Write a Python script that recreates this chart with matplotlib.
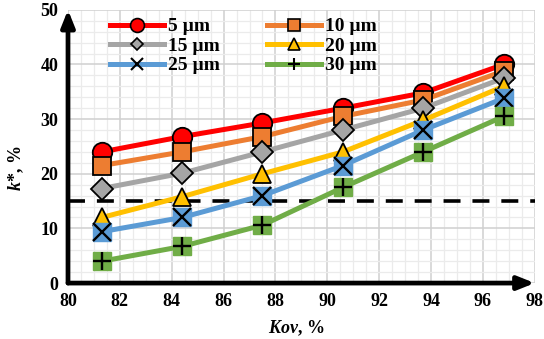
import numpy as np
import matplotlib
matplotlib.use('Agg')
import matplotlib.pyplot as plt
from matplotlib.lines import Line2D
from matplotlib.ticker import MultipleLocator

# data
kov = [81.3, 84.4, 87.5, 90.6, 93.7, 96.8]
k_5 = [24.0, 26.8, 29.3, 32.0, 34.8, 40.0]
k_10 = [21.5, 24.0, 26.8, 30.5, 33.5, 38.8]
k_15 = [17.3, 20.1, 24.0, 28.0, 32.0, 37.5]
k_20 = [12.0, 15.8, 20.0, 24.0, 29.8, 36.0]
k_25 = [9.4, 12.0, 16.0, 21.5, 28.0, 33.8]
k_30 = [4.0, 6.7, 10.6, 17.5, 24.0, 30.5]
labels = ['5 µm', '10 µm', '15 µm', '20 µm', '25 µm', '30 µm']
threshold = 15

plt.rcParams['font.family'] = ['Liberation Serif', 'DejaVu Serif']
plt.rcParams['font.weight'] = 'bold'
plt.rcParams['mathtext.fontset'] = 'custom'
plt.rcParams['mathtext.bfit'] = 'Liberation Serif:italic:bold'
plt.rcParams['mathtext.rm'] = 'Liberation Serif:bold'

fig = plt.figure(figsize=(5.44, 3.39), dpi=100)
ax = fig.add_axes([0.125, 0.165, 0.858, 0.806])

colors = ['#FF0000', '#ED7D31', '#A5A5A5', '#FFC000', '#5B9BD5', '#70AD47']
lw = 3.6

# series with their Excel-like markers
ax.plot(kov, k_5, color=colors[0], lw=lw, marker='o', ms=14, mfc=colors[0], mec='black', mew=1.3, zorder=3)
ax.plot(kov, k_10, color=colors[1], lw=lw, marker='s', ms=13, mfc=colors[1], mec='black', mew=1.3, zorder=4)
ax.plot(kov, k_15, color=colors[2], lw=lw, marker='D', ms=11, mfc=colors[2], mec='black', mew=1.3, zorder=5)
ax.plot(kov, k_20, color=colors[3], lw=lw, marker='^', ms=12.5, mfc=colors[3], mec='black', mew=1.3, zorder=6)
ax.plot(kov, k_25, color=colors[4], lw=lw, marker='s', ms=13, mfc=colors[4], mec=colors[4], zorder=7)
ax.plot(kov, k_25, ls='none', marker='x', ms=13, mec='black', mew=1.7, zorder=7.5)
ax.plot(kov, k_30, color=colors[5], lw=lw, marker='s', ms=13.5, mfc=colors[5], mec=colors[5], zorder=8)
ax.plot(kov, k_30, ls='none', marker='+', ms=13, mec='black', mew=1.7, zorder=8.5)

ax.axhline(threshold, color='black', lw=2.6, ls=(0, (4.7, 3.3)), zorder=2.5)

ax.set_xlim(80, 98)
ax.set_ylim(0, 50)
ax.xaxis.set_major_locator(MultipleLocator(2))
ax.xaxis.set_minor_locator(MultipleLocator(0.5))
ax.yaxis.set_major_locator(MultipleLocator(10))
ax.yaxis.set_minor_locator(MultipleLocator(2))
ax.grid(which='major', color='#D0D0D0', lw=1.1, zorder=0)
ax.grid(which='minor', color='#EBEBEB', lw=0.9, zorder=0)
ax.set_axisbelow(True)
ax.tick_params(which='both', length=0, labelsize=13, pad=7)
for s in ax.spines.values():
    s.set_visible(False)

# axes with arrow heads
ax.annotate('', xy=(80, 50), xytext=(80, 0), annotation_clip=False,
            arrowprops=dict(arrowstyle='-|>,head_length=1.0,head_width=0.4', lw=3.4, color='black', shrinkA=0, shrinkB=0))
ax.annotate('', xy=(98, 0), xytext=(80, 0), annotation_clip=False,
            arrowprops=dict(arrowstyle='-|>,head_length=1.0,head_width=0.4', lw=3.4, color='black', shrinkA=0, shrinkB=0))

ax.set_xlabel(r'$\mathbfit{Kov}$, %', fontsize=13, fontweight='bold')
ax.set_ylabel(r'$\mathbfit{k}$*, %', fontsize=13, fontweight='bold')
ax.xaxis.set_label_coords(0.488, -0.128)
ax.yaxis.set_label_coords(-0.09, 0.42)

handles = [
    Line2D([], [], color=colors[0], lw=lw, marker='o', ms=10, mfc=colors[0], mec='black', mew=1.2),
    Line2D([], [], color=colors[2], lw=lw, marker='D', ms=6.5, mfc=colors[2], mec='black', mew=1.2),
    Line2D([], [], color=colors[4], lw=lw, marker='x', ms=8.5, mec='black', mew=1.5),
    Line2D([], [], color=colors[1], lw=lw, marker='s', ms=9, mfc=colors[1], mec='black', mew=1.2),
    Line2D([], [], color=colors[3], lw=lw, marker='^', ms=8, mfc=colors[3], mec='black', mew=1.2),
    Line2D([], [], color=colors[5], lw=lw, marker='+', ms=8.5, mec='black', mew=1.5),
]
leg_labels = [labels[0], labels[2], labels[4], labels[1], labels[3], labels[5]]
ax.legend(handles, leg_labels, ncol=2, frameon=False,
          loc='upper left', bbox_to_anchor=(0.052, 1.035), handlelength=2.8,
          handletextpad=0.2, columnspacing=2.4, labelspacing=0.1,
          prop={'family': 'Liberation Serif', 'weight': 'bold', 'size': 14})

fig.savefig('out.png', dpi=100)
